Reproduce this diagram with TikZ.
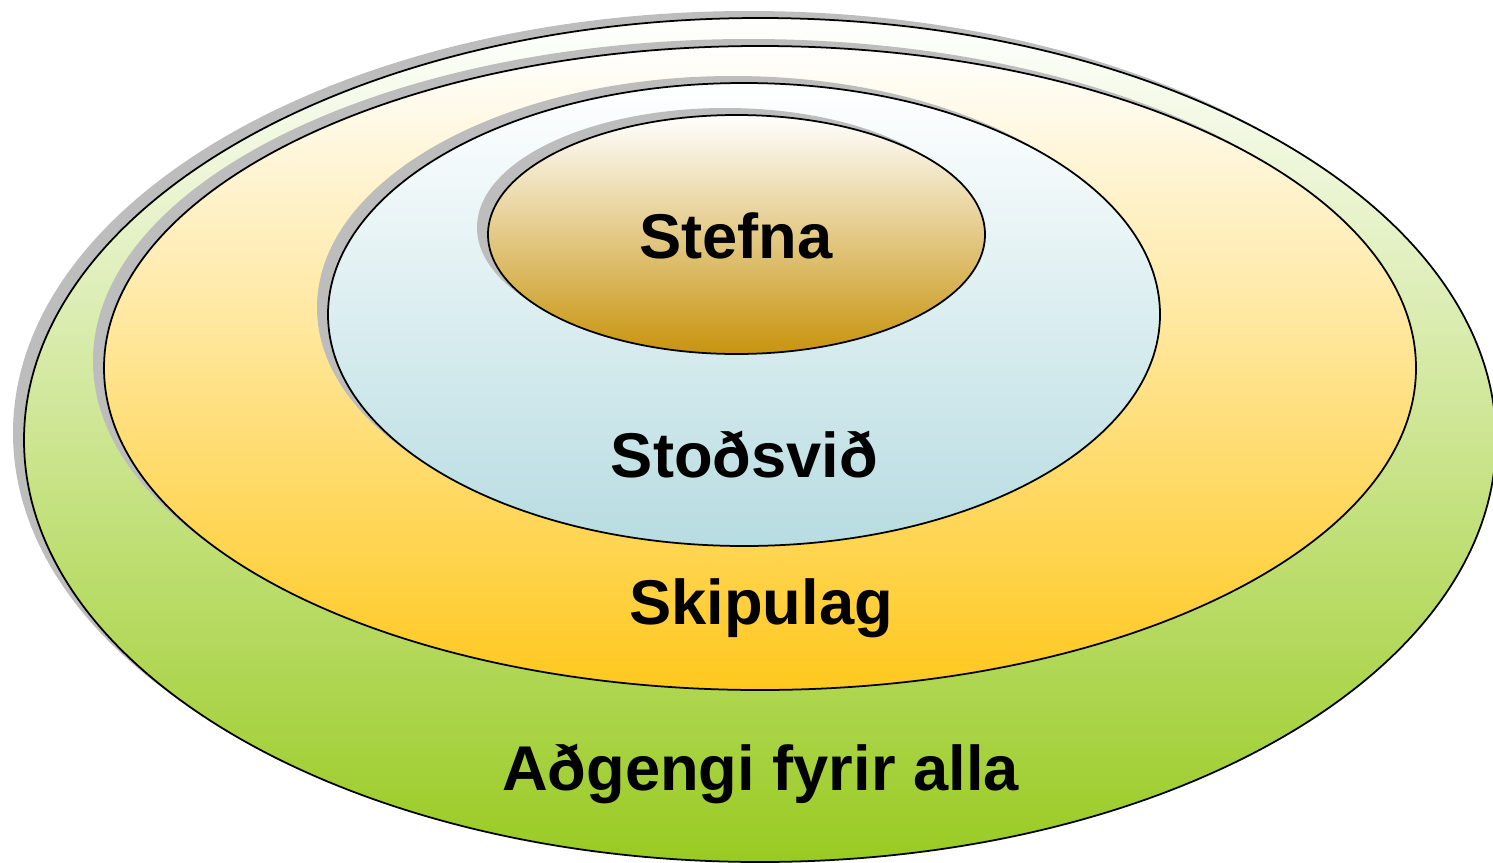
\documentclass[tikz,border=0pt]{standalone}
\usepackage{fontspec}
\setmainfont{Liberation Sans}
\usetikzlibrary{shadows}
\definecolor{ringgreen}{HTML}{99CB22}
\definecolor{ringorange}{HTML}{FFC81E}
\definecolor{ringblue}{HTML}{B7DCE1}
\definecolor{ringbrown}{HTML}{C8940E}
\definecolor{ringshadow}{HTML}{BDBDBD}
\tikzstyle{every node}=[font=\bfseries\fontsize{36}{40}\selectfont, anchor=base]
\tikzset{ring/.style={draw=black, line width=1pt,
	drop shadow={shadow xshift=-0.22cm, shadow yshift=0.14cm, fill=ringshadow, opacity=1},
	top color=white, middle color=#1!25, bottom color=#1}}

\begin{document}
\begin{tikzpicture}[x=0.02cm, y=-0.02cm]
	\useasboundingbox (0,0) rectangle (1493,862);
	
	\coordinate (alla) at (760,440);
	\coordinate (skip) at (760,368);
	\coordinate (stod) at (744,314.5);
	\coordinate (stef) at (736.5,234.5);
	
	% hringir
	\draw[ring=ringgreen] (alla) ellipse [x radius=736, y radius=422];
	\draw[ring=ringorange] (skip) ellipse [x radius=656, y radius=322];
	\draw[ring=ringblue] (stod) ellipse [x radius=416, y radius=231.5];
	\draw[ring=ringbrown] (stef) ellipse [x radius=248.5, y radius=119.5];
	
	% heiti
	\node (stefna) at (736,258) {Stefna};
	\node (stodsvid) at (744.5,477) {Stoðsvið};
	\node (skipulag) at (761,624) {Skipulag};
	\node (adgengi) at (760.5,790) {Aðgengi fyrir alla};
\end{tikzpicture}
\end{document}
